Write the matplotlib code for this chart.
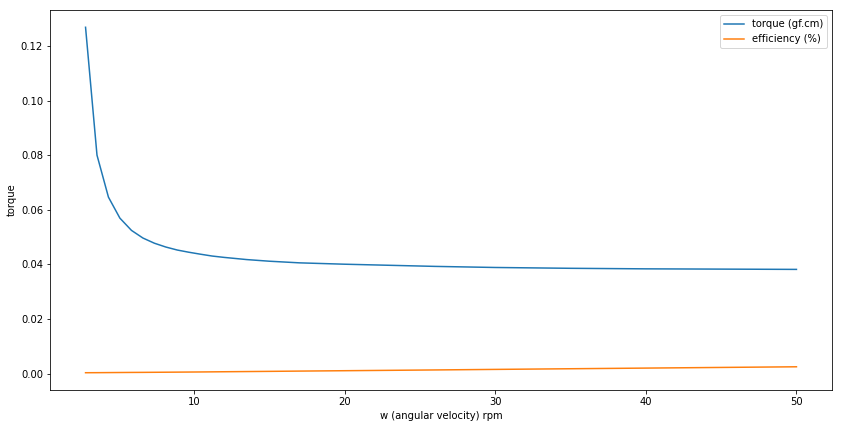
import matplotlib
matplotlib.use("Agg")
import matplotlib.pyplot as plt

# angular velocity (rpm)
w = [2.80, 3.56, 4.32, 5.08, 5.85, 6.61, 7.37, 8.13, 8.89, 9.65,
     10.4, 11.2, 12.0, 13.5, 15.0, 17.0, 20.0, 23.0, 26.0, 30.0,
     35.0, 40.0, 45.0, 50.0]

torque = [0.1270, 0.0801, 0.0647, 0.0570, 0.0525, 0.0497, 0.0478, 0.0464, 0.0453, 0.0445,
          0.0438, 0.0431, 0.0426, 0.0418, 0.0412, 0.0406, 0.0401, 0.0397, 0.0393, 0.0389,
          0.0386, 0.0384, 0.0383, 0.0382]

efficiency = [0.00030, 0.00032, 0.00035, 0.00038, 0.00041, 0.00043, 0.00046, 0.00049, 0.00052, 0.00055,
              0.00058, 0.00062, 0.00066, 0.00073, 0.00080, 0.00090, 0.00104, 0.00118, 0.00132, 0.00152,
              0.00176, 0.00200, 0.00224, 0.00248]

# saved at 72 dpi like a notebook figure
fig, ax = plt.subplots(figsize=(842/72, 429/72), dpi=72)
fig.subplots_adjust(left=50/842, right=832/842, top=1-10/429, bottom=1-390/429)

ax.plot(w, torque, color='#1f77b4', label='torque (gf.cm)')
ax.plot(w, efficiency, color='#ff7f0e', label='efficiency (%)')

ax.set_xlabel('w (angular velocity) rpm')
ax.set_ylabel('torque')
ax.legend(loc='upper right')

fig.savefig('out.png', dpi=72)
